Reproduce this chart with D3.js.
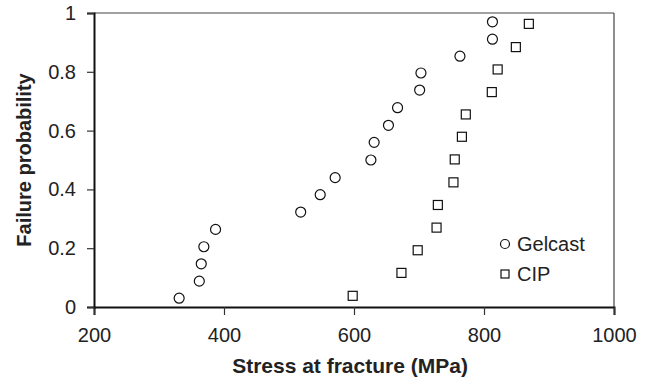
<!DOCTYPE html>
<html>
<head>
<meta charset="utf-8">
<script src="https://cdn.jsdelivr.net/npm/d3@7"></script>
<style>
  body { margin: 0; background: #fff; }
  svg text { font-family: Arial, "Liberation Sans", sans-serif; fill: #222; }
</style>
</head>
<body>
<div id="chart"></div>
<script>
// Data
const gelcastStress = [331, 362, 365, 369, 387, 518, 548, 571, 626, 631, 653, 667, 701, 703, 763, 813, 813];
const gelcastProb = [0.03, 0.088, 0.147, 0.205, 0.264, 0.323, 0.382, 0.44, 0.5, 0.56, 0.618, 0.678, 0.738, 0.796, 0.853, 0.911, 0.97];
const cipStress = [598, 673, 698, 727, 729, 753, 755, 766, 772, 812, 821, 849, 869];
const cipProb = [0.038, 0.116, 0.193, 0.27, 0.347, 0.424, 0.502, 0.579, 0.655, 0.731, 0.808, 0.884, 0.963];
const xTicks = [200, 400, 600, 800, 1000];
const yTicks = [0, 0.2, 0.4, 0.6, 0.8, 1];

const width = 650, height = 383;
const margin = { top: 13, right: 36, bottom: 76, left: 94 };
const innerW = width - margin.left - margin.right;
const innerH = height - margin.top - margin.bottom;

const svg = d3.select("#chart").append("svg")
    .attr("width", width).attr("height", height);

const g = svg.append("g").attr("transform", `translate(${margin.left},${margin.top})`);

const x = d3.scaleLinear().domain([200, 1000]).range([0, innerW]);
const y = d3.scaleLinear().domain([0, 1]).range([innerH, 0]);

// frame (top and right, thin)
g.append("line").attr("x1", 0).attr("x2", innerW).attr("y1", 0).attr("y2", 0)
    .attr("stroke", "#444").attr("stroke-width", 1.2);
g.append("line").attr("x1", innerW).attr("x2", innerW).attr("y1", 0).attr("y2", innerH)
    .attr("stroke", "#444").attr("stroke-width", 1.2);

const xAxis = g.append("g")
    .attr("transform", `translate(0,${innerH})`)
    .call(d3.axisBottom(x).tickValues(xTicks).tickSize(8).tickPadding(13).tickFormat(d3.format("d")));

const yAxis = g.append("g")
    .call(d3.axisLeft(y).tickValues(yTicks).tickSize(7).tickPadding(11).tickFormat(d3.format("~g")));

[xAxis, yAxis].forEach(a => {
    a.select(".domain").attr("stroke", "#111").attr("stroke-width", 2);
    a.selectAll(".tick line").attr("stroke", "#333").attr("stroke-width", 1.2);
    a.selectAll(".tick text").attr("font-size", 20).attr("fill", "#222")
        .style("font-family", "Arial, 'Liberation Sans', sans-serif");
});

// axis titles
svg.append("text")
    .attr("x", 350).attr("y", 373)
    .attr("text-anchor", "middle")
    .attr("font-size", 21).attr("font-weight", "bold")
    .text("Stress at fracture (MPa)");

svg.append("text")
    .attr("transform", `translate(31,${margin.top + innerH / 2}) rotate(-90)`)
    .attr("text-anchor", "middle")
    .attr("font-size", 20).attr("font-weight", "bold")
    .text("Failure probability");

// Gelcast circles
const gelcast = gelcastStress.map((s, i) => ({ s, p: gelcastProb[i] }));
g.selectAll(".gel").data(gelcast).join("circle")
    .attr("class", "gel")
    .attr("cx", d => x(d.s)).attr("cy", d => y(d.p))
    .attr("r", 5)
    .attr("fill", "#fff").attr("stroke", "#111").attr("stroke-width", 1.2);

// CIP squares
const cip = cipStress.map((s, i) => ({ s, p: cipProb[i] }));
const sq = 9;
g.selectAll(".cip").data(cip).join("rect")
    .attr("class", "cip")
    .attr("x", d => x(d.s) - sq / 2).attr("y", d => y(d.p) - sq / 2)
    .attr("width", sq).attr("height", sq)
    .attr("fill", "#fff").attr("stroke", "#111").attr("stroke-width", 1.2);

// legend
const legend = svg.append("g").attr("transform", "translate(505,244)");
legend.append("circle").attr("cx", 0).attr("cy", 0).attr("r", 4.5)
    .attr("fill", "#fff").attr("stroke", "#111").attr("stroke-width", 1.2);
legend.append("text").attr("x", 12).attr("y", 7).attr("font-size", 20).text("Gelcast");
legend.append("rect").attr("x", -4).attr("y", 26).attr("width", 8).attr("height", 8)
    .attr("fill", "#fff").attr("stroke", "#111").attr("stroke-width", 1.2);
legend.append("text").attr("x", 12).attr("y", 37).attr("font-size", 20).text("CIP");
</script>
</body>
</html>
